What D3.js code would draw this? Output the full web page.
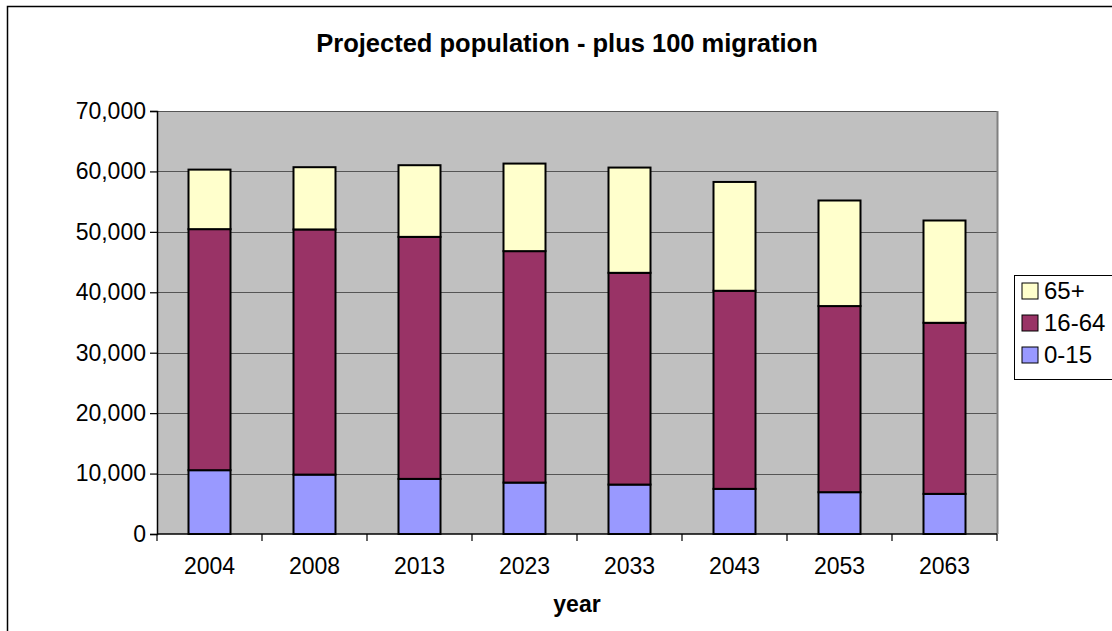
<!DOCTYPE html>
<html>
<head>
<meta charset="utf-8">
<script src="https://cdn.jsdelivr.net/npm/d3@7"></script>
<style>
  html, body { margin: 0; padding: 0; background: #fff; overflow: hidden; }
  svg { display: block; font-family: "Liberation Sans", Arial, sans-serif; }
</style>
</head>
<body>
<svg id="chart" width="1112" height="631"></svg>
<script>
// Projected population by age group, assuming net migration of 100 a year
const years = ["2004", "2008", "2013", "2023", "2033", "2043", "2053", "2063"];
const age0to15 = [10560, 9830, 9120, 8510, 8180, 7470, 6920, 6640];
const age16to64 = [39890, 40570, 40050, 38300, 35040, 32780, 30800, 28310];
const age65plus = [9850, 10300, 11860, 14490, 17420, 18010, 17470, 16930];
const yTicks = [0, 10000, 20000, 30000, 40000, 50000, 60000, 70000];
const seriesNames = ["0-15", "16-64", "65+"];
const seriesColors = ["#9999FF", "#993366", "#FFFFCC"];

const rows = years.map((y, i) => ({
  year: y, "0-15": age0to15[i], "16-64": age16to64[i], "65+": age65plus[i]
}));
const stacked = d3.stack().keys(seriesNames)(rows);

const svg = d3.select("#chart");
const plot = { left: 157, top: 111, right: 997, bottom: 534 };
const labelSize = 23;

// chart frame
svg.append("path")
  .attr("d", `M7.5,631 V6.5 H1112`)
  .attr("fill", "none").attr("stroke", "#000").attr("stroke-width", 1.5);

const x = d3.scaleBand().domain(years).range([plot.left, plot.right]).paddingInner(0.6).paddingOuter(0.3);
const y = d3.scaleLinear().domain([0, 70000]).range([plot.bottom, plot.top]);

// plot area background
svg.append("rect")
  .attr("x", plot.left).attr("y", plot.top)
  .attr("width", plot.right - plot.left).attr("height", plot.bottom - plot.top)
  .attr("fill", "#C0C0C0");

// horizontal gridlines
svg.append("g").selectAll("line").data(yTicks.slice(1)).join("line")
  .attr("x1", plot.left).attr("x2", plot.right)
  .attr("y1", d => Math.round(y(d)) + 0.5).attr("y2", d => Math.round(y(d)) + 0.5)
  .attr("stroke", "#555").attr("stroke-width", 1.2);

// plot area right border
svg.append("line")
  .attr("x1", plot.right + 0.5).attr("x2", plot.right + 0.5)
  .attr("y1", plot.top).attr("y2", plot.bottom)
  .attr("stroke", "#808080").attr("stroke-width", 2);

// stacked bars
svg.append("g").selectAll("g").data(stacked).join("g")
  .attr("fill", (d, i) => seriesColors[i])
  .selectAll("rect").data(d => d).join("rect")
  .attr("x", d => x(d.data.year))
  .attr("width", x.bandwidth())
  .attr("y", d => y(d[1]))
  .attr("height", d => y(d[0]) - y(d[1]))
  .attr("stroke", "#000").attr("stroke-width", 2);

// y axis
const yAxis = svg.append("g")
  .attr("transform", `translate(${plot.left},0)`)
  .call(d3.axisLeft(y).tickValues(yTicks).tickSize(7).tickPadding(4).tickFormat(d3.format(",")));
yAxis.select(".domain").attr("stroke", "#000").attr("stroke-width", 1.5);
yAxis.selectAll(".tick line").attr("stroke", "#000").attr("stroke-width", 1.2);
yAxis.selectAll(".tick text").attr("font-size", labelSize).attr("fill", "#000")
  .attr("font-family", "'Liberation Sans', Arial, sans-serif");

// x axis: labels at band centres, ticks at band boundaries
const xAxis = svg.append("g").attr("transform", `translate(0,${plot.bottom})`);
xAxis.append("line")
  .attr("x1", plot.left).attr("x2", plot.right)
  .attr("stroke", "#000").attr("stroke-width", 1.5);
const boundaries = d3.range(years.length + 1).map(i => plot.left + i * (plot.right - plot.left) / years.length);
xAxis.selectAll(".bt").data(boundaries).join("line")
  .attr("class", "bt")
  .attr("x1", d => d).attr("x2", d => d).attr("y1", 0).attr("y2", 7)
  .attr("stroke", "#000").attr("stroke-width", 1.2);
xAxis.selectAll(".lbl").data(years).join("text")
  .attr("class", "lbl")
  .attr("x", d => x(d) + x.bandwidth() / 2)
  .attr("y", 40)
  .attr("text-anchor", "middle")
  .attr("font-size", labelSize)
  .text(d => d);

// titles
svg.append("text")
  .attr("x", 567).attr("y", 52)
  .attr("text-anchor", "middle").attr("font-weight", "bold").attr("font-size", 25.5)
  .text("Projected population - plus 100 migration");
svg.append("text")
  .attr("x", 577).attr("y", 612)
  .attr("text-anchor", "middle").attr("font-weight", "bold").attr("font-size", 23)
  .text("year");

// legend, top entry is the top of the stack
const legend = svg.append("g").attr("transform", "translate(1014,275)");
legend.append("rect")
  .attr("x", 0.5).attr("y", 0.5).attr("width", 110).attr("height", 104)
  .attr("fill", "#fff").attr("stroke", "#000").attr("stroke-width", 1);
const legendItems = seriesNames.map((n, i) => ({ name: n, color: seriesColors[i] })).reverse();
const li = legend.selectAll(".li").data(legendItems).join("g")
  .attr("class", "li")
  .attr("transform", (d, i) => `translate(8,${8 + i * 32})`);
li.append("rect")
  .attr("width", 16).attr("height", 16)
  .attr("fill", d => d.color).attr("stroke", "#000").attr("stroke-width", 1);
li.append("text")
  .attr("x", 22).attr("y", 16)
  .attr("font-size", 24)
  .text(d => d.name);
</script>
</body>
</html>
